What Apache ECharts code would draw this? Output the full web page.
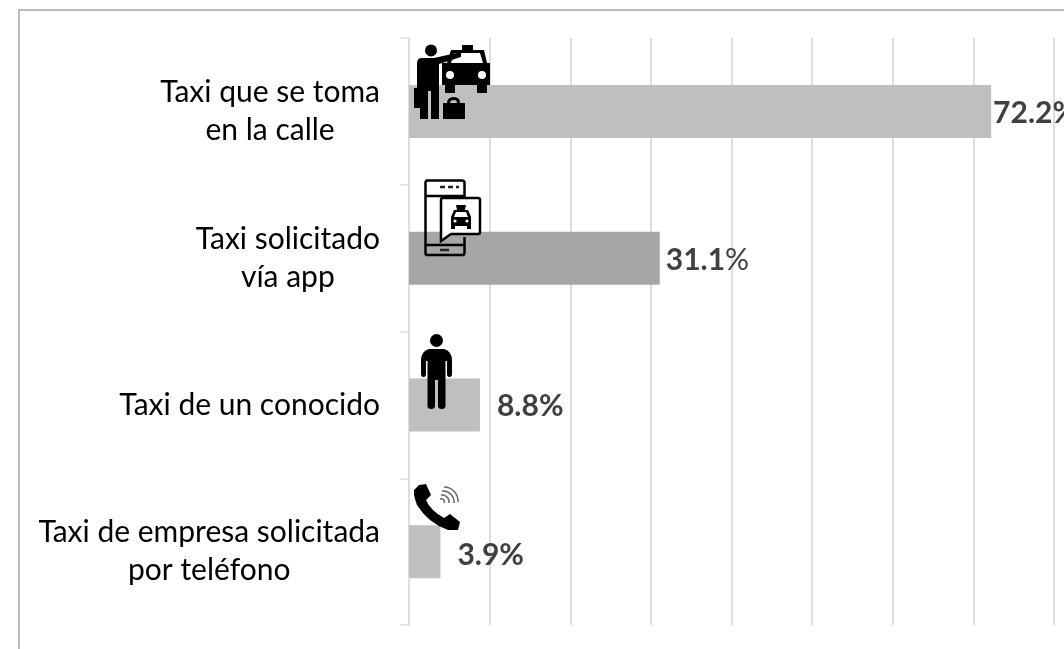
<!DOCTYPE html>
<html><head><meta charset="utf-8">
<style>html,body{margin:0;padding:0;background:#fff;overflow:hidden}#c{width:1064px;height:649px}</style>
<script src="https://cdn.jsdelivr.net/npm/echarts@6/dist/echarts.min.js"></script>
</head><body><div id="c"></div>
<script>
const categories = ['Taxi que se toma\nen la calle','Taxi solicitado\nvía app','Taxi de un conocido','Taxi de empresa solicitada\npor teléfono'];
const values = [72.2, 31.1, 8.8, 3.9];
const barColors = ['#BFBFBF','#A6A6A6','#BFBFBF','#BFBFBF'];
const labelGaps = [2, 6, 17, 17];
const labelDrops = [2, 2, 1, 4];

const fontFamily = 'Lato, "Open Sans", sans-serif';
const svg = (w,h,body) => 'data:image/svg+xml;charset=utf-8,' + encodeURIComponent(
  `<svg xmlns="http://www.w3.org/2000/svg" width="${w}" height="${h}" viewBox="0 0 ${w} ${h}">${body}</svg>`);

const iconStreet = svg(78,78,`
 <circle cx="17" cy="6.500" r="6"/>
 <path d="M7 14 H20 L47 8 V13 L25 20 V75 H17 V47 H14 V75 H6 V44 H3 V20 Q3 14 7 14Z"/>
 <path d="M0 44 H9 V64 H0Z"/>
 <path d="M29 75 V59 H33 Q33 53 40 53 Q46 53 46 59 H51 V75Z M36 59 H43 Q43 56 40 56 Q36 56 36 59Z" fill-rule="evenodd"/>
 <path d="M48 1 H59 V6 H70 L73 19 H76 V41 H73 V49 H63 V41 H41 V49 H31 V41 H28 V19 H33 L37 6 H48Z M40 9 L37 19 H69 L66 9Z" fill-rule="evenodd"/>
 <circle cx="36" cy="31" r="4" fill="#fff"/><circle cx="68" cy="31" r="4" fill="#fff"/>`);
const iconApp = svg(58,78,`
 <path d="M17 1.500 H3 Q1.500 1.500 1.500 4 V74 Q1.500 76 3 76 H39 Q40.500 76 40.500 73 V58 M40.500 18 V4 Q40.500 1.500 38 1.500 H17 M1.500 17 H40.500 M1.500 66 H40.500" fill="none" stroke="#000" stroke-width="2.500"/>
 <path d="M16 8 H21 M24 8 H29 M32 8 H35 M16 71 H25" stroke="#222" stroke-width="2.500"/>
 <path d="M19 19 H54 Q56 19 56 21 V53 Q56 55 54 55 H27 L17 62 V21 Q17 19 19 19Z" fill="#fff" stroke="#000" stroke-width="2.500"/>
 <path d="M32 26 H42 L41 31 H44 L47 38 V50 H43 V47 H31 V50 H27 V38 L30 31 H33Z M32 33 L30 38 H44 L42 33Z" fill-rule="evenodd"/>
 <circle cx="31" cy="42" r="1.600" fill="#fff"/><circle cx="43" cy="42" r="1.600" fill="#fff"/>`);
const iconPerson = svg(34,78,`
 <circle cx="16.500" cy="6.500" r="6.500"/>
 <path d="M9 15 H24 Q32 17 32 27 V40 Q32 43 29.500 43 Q27 43 27 40 V27 H25.500 V72 Q25.500 75 22 75 Q18 75 18 72 V46 H15 V72 Q15 75 11 75 Q7.500 75 7.500 72 V27 H6 V40 Q6 43 3.500 43 Q1 43 1 40 V27 Q1 17 9 15Z"/>`);
const iconPhone = svg(48,50,`
 <path d="M5 2 L12 1 L17 12 L12 17 Q16 27 30 35 L36 31 L46 39 L44 47 H34 Q14 40 3 22 Q-1 12 0 7Z"/>
 <path d="M28 8 a11 11 0 0 1 12 12 M30 4 a14 14 0 0 1 14 15 M27 12 a7 7 0 0 1 8 8 M26 16 a3 3 0 0 1 4 4" fill="none" stroke="#666" stroke-width="1.500"/>`);

const image = (src,x,y,width,height) => ({type:'image',left:x,top:y,z:100,style:{image:src,width,height}});

const chart = echarts.init(document.getElementById('c'),null,{renderer:'canvas'});
chart.setOption({
  animation:false,
  backgroundColor:'#fff',
  grid:{left:409,top:38,width:645,height:587,containLabel:false},
  xAxis:{type:'value',min:0,max:80,interval:10,
    axisLabel:{show:false},axisTick:{show:false},axisLine:{show:false},
    splitLine:{show:true,lineStyle:{color:'#DEDEDE',width:2}}},
  yAxis:{type:'category',inverse:true,data:categories,
    axisLine:{show:true,onZero:false,lineStyle:{color:'#DEDEDE',width:2}},
    axisTick:{show:true,length:9,lineStyle:{color:'#DEDEDE',width:1.5}},
    axisLabel:{margin:29,color:'#000',fontFamily,fontSize:30,lineHeight:38,
      formatter:v=>v.split('\n').map(s=>'{t|'+s+'}').join('\n'),
      rich:{t:{align:'center',fontFamily,fontSize:30,lineHeight:38,color:'#000'}}}},
  series:[{type:'bar',barWidth:53,silent:true,
    data:values.map((v,i)=>({value:v,itemStyle:{color:barColors[i]},
      label:{distance:labelGaps[i],offset:[0,labelDrops[i]]}})),
    label:{show:true,position:'right',color:'#404040',
      formatter:p=>p.dataIndex===1?'{b|'+p.value+'}{r|%}':'{b|'+p.value+'%}',
      rich:{b:{fontFamily,fontWeight:'bold',fontSize:30,color:'#404040'},
            r:{fontFamily,fontWeight:'normal',fontSize:30,color:'#404040'}}}}],
  graphic:[
    {type:'line',z:0,shape:{x1:19,y1:10,x2:1064,y2:10},style:{stroke:'#BBBBBB',lineWidth:2}},
    {type:'line',z:0,shape:{x1:19,y1:9,x2:19,y2:649},style:{stroke:'#BBBBBB',lineWidth:2}},
    image(iconStreet,414,44,78,78),
    image(iconApp,424,179,58,78),
    image(iconPerson,420,334,34,78),
    image(iconPhone,414,483,48,50)
  ]
});
</script></body></html>
